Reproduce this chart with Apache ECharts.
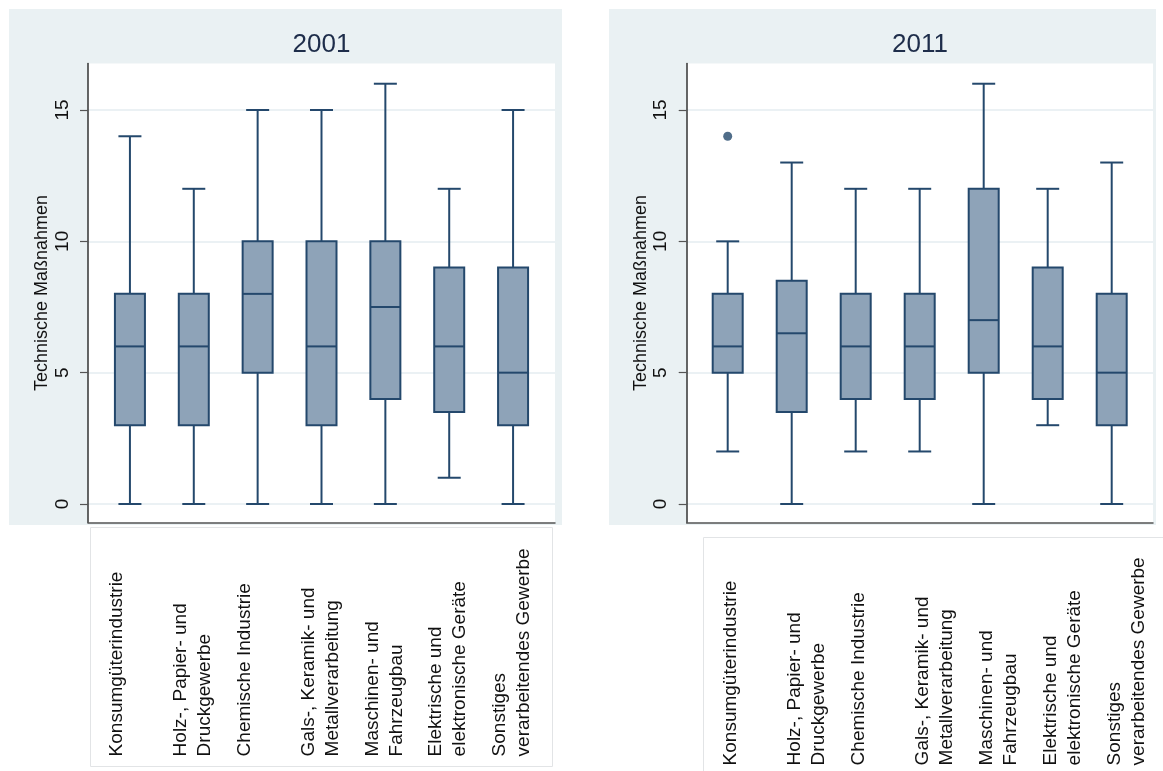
<!DOCTYPE html>
<html>
<head>
<meta charset="utf-8">
<script src="https://cdn.jsdelivr.net/npm/echarts@6/dist/echarts.min.js"></script>
<style>
  html, body { margin: 0; padding: 0; background: #ffffff; }
  #chart { width: 1163px; height: 771px; }
</style>
</head>
<body>
<div id="chart"></div>
<script>
// Branches (x categories)
const categories = [
  'Konsumgüterindustrie',
  'Holz-, Papier- und\nDruckgewerbe',
  'Chemische Industrie',
  'Gals-, Keramik- und\nMetallverarbeitung',
  'Maschinen- und\nFahrzeugbau',
  'Elektrische und\nelektronische Geräte',
  'Sonstiges\nverarbeitendes Gewerbe'
];

const years = ['2001', '2011'];

// Box statistics per branch: [min, Q1, median, Q3, max]
const box2001 = [
  [0, 3, 6, 8, 14],
  [0, 3, 6, 8, 12],
  [0, 5, 8, 10, 15],
  [0, 3, 6, 10, 15],
  [0, 4, 7.5, 10, 16],
  [1, 3.5, 6, 9, 12],
  [0, 3, 5, 9, 15]
];
const box2011 = [
  [2, 5, 6, 8, 10],
  [0, 3.5, 6.5, 8.5, 13],
  [2, 4, 6, 8, 12],
  [2, 4, 6, 8, 12],
  [0, 5, 7, 12, 16],
  [3, 4, 6, 9, 12],
  [0, 3, 5, 8, 13]
];

// Outside values: [category index, value]
const outliers2001 = [];
const outliers2011 = [[0, 14]];

const yTicks = [0, 5, 10, 15];
const yTitle = 'Technische Maßnahmen';

const FONT = '"Liberation Sans", Arial, Helvetica, sans-serif';
const EDGE = '#24486c';
const FILL = '#8ea3b8';
const PANEL_BG = '#eaf1f3';
const Y_MIN = -0.7, Y_MAX = 16.77;
const PLOT_TOP = 63.5, PLOT_H = 458.9;

// Panel geometry (pixels)
const panels = [
  { bgX: 9, bgW: 553, plotL: 88, plotW: 467, bandL: 98, bandW: 447, labelL: 73, labelMargin: 234,
    titleX: 321.5, boxRect: [90.5, 527.5, 462, 239] },
  { bgX: 609, bgW: 547, plotL: 686.7, plotW: 466.3, bandL: 695.7, bandW: 448, labelL: 686.7, labelMargin: 243,
    titleX: 920, boxRect: [703.5, 537.5, 470, 240] }
];
const boxSets = [box2001, box2011];
const outlierSets = [outliers2001, outliers2011];

// One box with whiskers and caps, placed through the axis scales
function renderBox(params, api) {
  const x = api.value(0);
  const lo = api.coord([x, api.value(1)]);
  const q1 = api.coord([x, api.value(2)]);
  const md = api.coord([x, api.value(3)]);
  const q3 = api.coord([x, api.value(4)]);
  const hi = api.coord([x, api.value(5)]);
  const cx = lo[0];
  const half = 15, cap = 11.5;
  const ls = { stroke: EDGE, lineWidth: 2 };
  return {
    type: 'group',
    children: [
      { type: 'line', shape: { x1: cx, y1: hi[1], x2: cx, y2: q3[1] }, style: ls },
      { type: 'line', shape: { x1: cx, y1: q1[1], x2: cx, y2: lo[1] }, style: ls },
      { type: 'line', shape: { x1: cx - cap, y1: hi[1], x2: cx + cap, y2: hi[1] }, style: ls },
      { type: 'line', shape: { x1: cx - cap, y1: lo[1], x2: cx + cap, y2: lo[1] }, style: ls },
      { type: 'rect', shape: { x: cx - half, y: q3[1], width: half * 2, height: q1[1] - q3[1] },
        style: { fill: FILL, stroke: EDGE, lineWidth: 2 } },
      { type: 'line', shape: { x1: cx - half, y1: md[1], x2: cx + half, y2: md[1] }, style: ls }
    ]
  };
}

const grid = [], xAxis = [], yAxis = [], series = [], graphic = [];

panels.forEach((p, i) => {
  const g0 = grid.length;
  // frame grid: white plot area, axis lines, y ticks
  grid.push({ left: p.plotL, top: PLOT_TOP, width: p.plotW, height: PLOT_H, show: true,
    backgroundColor: '#ffffff', borderWidth: 0, containLabel: false, outerBoundsMode: 'none' });
  // data grid: boxes
  grid.push({ left: p.bandL, top: PLOT_TOP, width: p.bandW, height: PLOT_H, containLabel: false, outerBoundsMode: 'none' });
  // label grid: category names
  grid.push({ left: p.labelL, top: PLOT_TOP, width: p.bandW, height: PLOT_H, containLabel: false, outerBoundsMode: 'none' });

  xAxis.push({
    gridIndex: g0, type: 'value', min: 0, max: 1,
    axisLine: { show: true, onZero: false, lineStyle: { color: '#555555', width: 1.5 } },
    axisTick: { show: false }, axisLabel: { show: false }, splitLine: { show: false }
  });
  yAxis.push({
    gridIndex: g0, type: 'value', min: Y_MIN, max: Y_MAX,
    axisLine: { show: true, onZero: false, lineStyle: { color: '#333333', width: 1.5 } },
    axisTick: { show: true, length: 8, customValues: yTicks, lineStyle: { color: '#555555', width: 1.2 } },
    axisLabel: { customValues: yTicks, rotate: 90, margin: 16, fontSize: 19, fontFamily: FONT, color: '#111111' },
    splitLine: { show: true, lineStyle: { color: '#e4edf0', width: 1.5 } },
    name: yTitle, nameLocation: 'middle', nameGap: 37, nameRotate: 90, nameMoveOverlap: false,
    nameTextStyle: { fontSize: 18, fontFamily: FONT, color: '#111111' }
  });

  xAxis.push({ gridIndex: g0 + 1, type: 'category', data: categories, show: false });
  yAxis.push({ gridIndex: g0 + 1, type: 'value', min: Y_MIN, max: Y_MAX, show: false });

  xAxis.push({
    gridIndex: g0 + 2, type: 'category', data: categories,
    axisLine: { show: false }, axisTick: { show: false }, splitLine: { show: false },
    axisLabel: { interval: 0, rotate: 90, align: 'left', verticalAlign: 'top', margin: p.labelMargin,
      fontSize: 19, lineHeight: 24, fontFamily: FONT, color: '#111111' }
  });
  yAxis.push({ gridIndex: g0 + 2, type: 'value', min: Y_MIN, max: Y_MAX, show: false });

  series.push({
    type: 'custom', name: years[i], xAxisIndex: g0 + 1, yAxisIndex: g0 + 1,
    renderItem: renderBox,
    encode: { x: 0, y: [1, 2, 3, 4, 5] },
    data: boxSets[i].map((d, k) => [k].concat(d)),
    z: 3
  });
  series.push({
    type: 'scatter', xAxisIndex: g0 + 1, yAxisIndex: g0 + 1,
    data: outlierSets[i], symbol: 'circle', symbolSize: 9,
    itemStyle: { color: EDGE }, z: 4
  });

  graphic.push({ type: 'rect', z: -10, silent: true,
    shape: { x: p.bgX, y: 9, width: p.bgW, height: 516 }, style: { fill: PANEL_BG } });
  graphic.push({ type: 'rect', z: -5, silent: true,
    shape: { x: p.boxRect[0], y: p.boxRect[1], width: p.boxRect[2], height: p.boxRect[3] },
    style: { fill: 'none', stroke: '#e2e4e6', lineWidth: 1 } });
  graphic.push({ type: 'text', z: 5, silent: true, x: p.titleX, y: 45,
    style: { text: years[i], font: '26px ' + FONT, fill: '#1e2d4a', textAlign: 'center', textVerticalAlign: 'middle' } });
});

const chart = echarts.init(document.getElementById('chart'), null, { renderer: 'canvas' });
chart.setOption({
  animation: false,
  backgroundColor: '#ffffff',
  grid, xAxis, yAxis, series, graphic
});
</script>
</body>
</html>
